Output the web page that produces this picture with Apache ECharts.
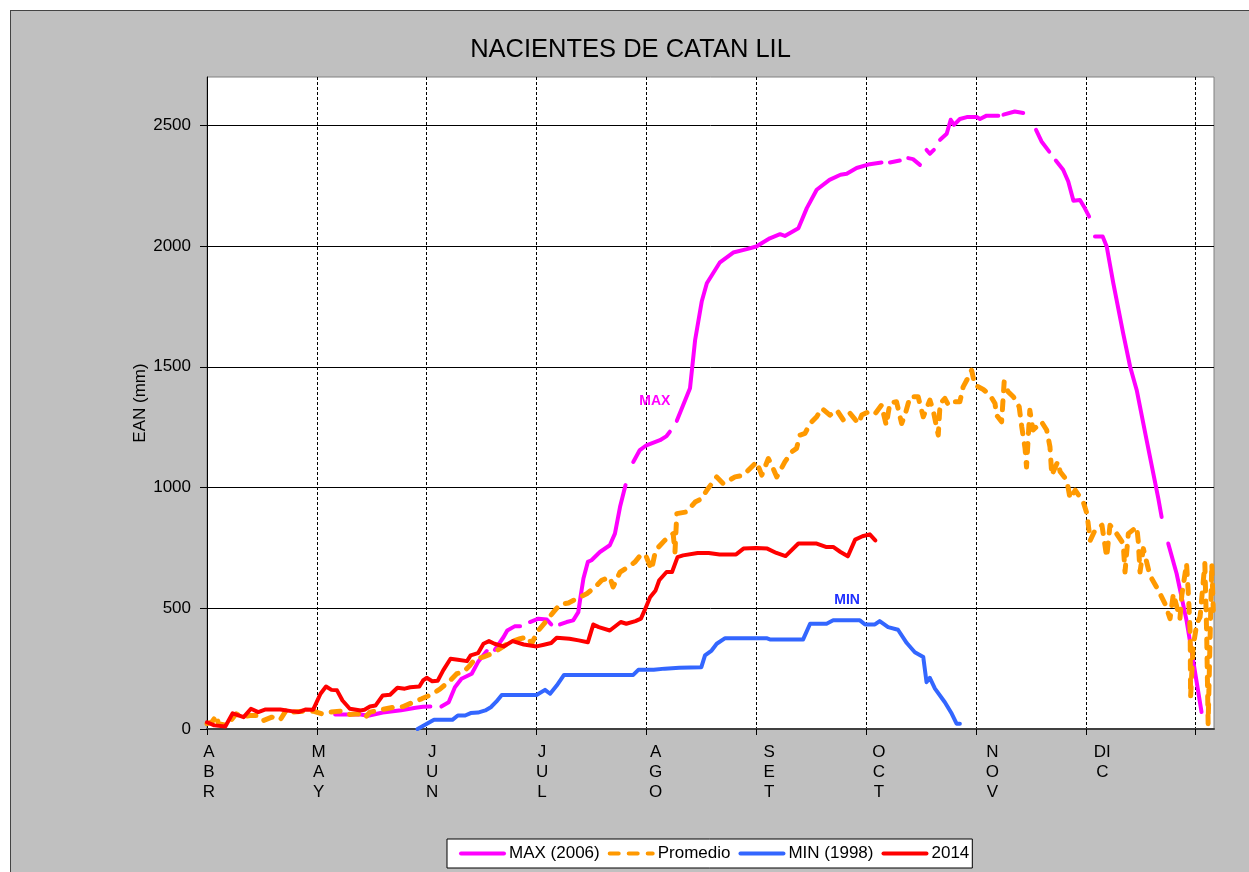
<!DOCTYPE html>
<html>
<head>
<meta charset="utf-8">
<title>NACIENTES DE CATAN LIL</title>
<script src="https://cdn.jsdelivr.net/npm/echarts@6/dist/echarts.min.js"></script>
<style>
html,body{margin:0;padding:0;background:#fff;overflow:hidden;}
#chart{position:absolute;left:10px;top:10px;width:1239px;height:862px;border-left:1px solid #444;border-top:1px solid #444;}
</style>
</head>
<body>
<div id="chart"></div>
<script>
// dias desde el 1 de abril (posicion en el eje), valores EAN en mm
var monthLabels = ['A\nB\nR','M\nA\nY','J\nU\nN','J\nU\nL','A\nG\nO','S\nE\nT','O\nC\nT','N\nO\nV','DI\nC'];
var monthStart = [0,30,61,91,122,153,183,214,244];
var yTicks = [0,500,1000,1500,2000,2500];
var xTicks = [0,30,60,90,120,150,180,210,240,270];

// MAX (2006) - tramos separados por datos faltantes
var max2006 = [
  [[35,60],[42,60],[44,55],[48,68],[53,78],[57,88],[59,92],[61,93]],
  [[64,93],[66,111],[67.7,173],[69.5,208],[72.3,229],[74,277],[76.4,323]],
  [[78.6,328],[81,381],[82,408],[84,425],[85.5,425]],
  [[88.2,443],[90.5,457],[92.8,453],[94,433]],
  [[96.4,433],[98.2,443],[100,450],[101.4,484],[102,546],[102.8,623],[104,692],[105,699],[107.3,733],[110,761],[111.4,809],[112.8,920],[114.3,1010]],
  [[116.4,1106],[118.2,1155],[120,1175],[123.7,1196],[125.5,1213],[126.4,1231]],
  [[128.3,1276],[131.9,1411],[133.3,1611],[135.1,1770],[136.5,1846],[140,1931],[143.7,1973],[147.4,1987],[150,1998],[153.7,2032],[156.5,2049],[157.8,2042],[161.5,2074],[163.8,2157],[166.5,2233],[170,2274],[173,2295],[174.7,2299],[177.4,2323],[181,2339],[184.2,2346]],
  [[186.5,2346],[189.2,2354]],
  [[191.5,2364],[192.8,2360],[194.7,2336]],
  [[196.5,2398],[197.4,2382],[198.5,2398]],
  [[200.2,2440],[202,2465],[203.1,2523],[204,2502],[205.6,2526],[207.5,2534],[210.2,2534],[211.1,2526],[212.9,2540],[216.1,2540]],
  [[217.5,2544],[220.6,2557],[222.9,2551]],
  [[226.4,2481],[227.9,2433],[230,2391]],
  [[231.8,2354],[233.8,2316],[235.2,2267],[236.6,2188],[238.4,2191],[239.5,2163],[240.9,2122]],
  [[242.5,2039],[244.6,2039],[245.7,1998],[247.5,1846],[250.2,1638],[252.1,1500],[253.9,1403],[256.6,1196],[259.8,954],[260.7,878]],
  [[262.5,768],[264.8,643],[267.5,450],[269.3,284],[271.6,70]]
];

var promedio = [
  [0,22],[1.3,28],[2.6,56],[3.1,22],[5.4,15],[8,63],[9.5,49],[11.7,56],[14,56],[15.4,35],[17.7,49],[20,38],
  [21.9,84],[23.6,70],[26.3,74],[29,74],[31.3,63],[33.6,70],[36.3,74],[39,60],[41.3,63],[43.1,46],[44.5,70],
  [47.7,80],[50.9,90],[53.6,93],[56.3,111],[58.6,125],[60.9,140],[63.6,165],[66.4,201],[68.2,229],[70,236],
  [71.8,263],[73.2,291],[75.5,298],[77.7,312],[80,333],[82.7,360],[85.5,374],[87.7,381],[88.6,353],[90.5,408],
  [92.8,450],[94.6,484],[96.4,516],[98.7,522],[101,540],[103.7,560],[106,588],[107.8,616],[110,629],[110.9,588],
  [112.8,650],[115,671],[116.9,692],[118.7,726],[120,712],[121.4,660],[122.5,740],[125,781],[127.3,809],[127.8,733],
  [128.3,892],[131,899],[133.3,940],[135.1,954],[136.5,989],[139.2,1044],[141,1016],[144.2,1044],[146.5,1051],
  [148.3,1079],[150.1,1106],[151.5,1051],[153.3,1120],[154.6,1079],[155.6,1044],[157.8,1106],[159.7,1148],[161,1162],
  [161.9,1217],[163.3,1224],[164.7,1265],[166.5,1293],[167.9,1328],[170.1,1300],[172,1320],[173.8,1279],[175.6,1307],
  [177.9,1265],[178.8,1300],[180.6,1313],[182.4,1304],[184.2,1341],[185.5,1258],[186.5,1351],[188.3,1355],[189.7,1265],
  [190.6,1300],[192,1376],[194.2,1376],[195.6,1293],[197.4,1362],[198.3,1320],[199.7,1217],[200.2,1348],[201.5,1369],
  [202.5,1341],[203.8,1355],[205.6,1355],[206.5,1417],[207.5,1445],[208.8,1486],[209.7,1424],[212,1406],[213.8,1383],
  [215.2,1348],[215.6,1300],[217,1272],[217.7,1438],[218.8,1396],[220.2,1376],[221.8,1334],[222.5,1251],[223.4,1162],
  [223.8,1085],[224.7,1320],[225.6,1238],[227.9,1272],[229.3,1238],[230.2,1169],[230.7,1051],[232.3,1106],[233,1065],
  [234.8,1030],[235.7,954],[237.1,989],[239.3,940],[240.3,892],[241.2,781],[242.5,823],[244.4,844],[245.7,712],
  [246.6,844],[248.4,809],[250.2,768],[250.7,650],[251.6,809],[253.9,837],[254.3,781],[254.8,650],[255.7,747],
  [257.5,636],[259.8,574],[261.6,519],[263,457],[263.9,560],[265.7,457],[266.2,553],[267.5,685],[268,560],[268.5,395],
  [268.6,132],[269.3,339],[270.3,436],[271.2,464],[272.5,685],[273,395],[273.4,22],[274.4,685],[274.8,491]
];

var min1998 = [
  [57.5,0],[62,38],[67,38],[68.5,56],[70.5,56],[72,66],[74,68],[76,77],[77.5,90],[79,113],[80.5,141],[90,141],
  [92.3,162],[93.7,146],[95.5,180],[97.5,224],[116.4,224],[117.8,245],[122,245],[125,250],[129,254],[135,256],
  [136,305],[137.8,325],[139.2,353],[141.5,376],[152.8,376],[153.7,371],[162.8,371],[164.7,436],[169.2,436],
  [171,450],[178.3,450],[179.7,433],[182.4,433],[183.7,447],[186,422],[188.7,411],[191.1,356],[193.3,318],
  [195.6,298],[196.5,194],[197.4,212],[198.8,167],[201.5,111],[203.4,63],[204.7,22],[205.6,22]
];

var y2014 = [
  [0,28],[2,15],[5,10],[7,65],[10,49],[12,84],[14,70],[16,81],[20,81],[23,74],[25,70],[27,81],[29,80],[31,146],
  [32.5,176],[34,162],[35.5,160],[37,118],[39,84],[42,77],[43,80],[44.5,93],[46,97],[48,139],[50,142],[52,171],
  [54,167],[55.5,173],[58,176],[59,201],[60,212],[61.5,198],[63,200],[64.5,243],[66.5,291],[68.5,287],[71,281],
  [72,305],[74,314],[75.5,353],[77,364],[78.5,353],[81,342],[83.5,364],[86.5,350],[90,342],[92,349],[94,356],
  [95.5,378],[99,374],[101.5,367],[104,359],[105.5,433],[107,422],[110,408],[113,443],[114.5,436],[117,447],
  [118.5,457],[119.5,491],[121,546],[122.5,574],[123.5,616],[125.5,650],[127,650],[128.5,712],[130,719],[134,729],
  [137,729],[140,723],[144.5,723],[146.5,747],[150,750],[153,747],[155.5,729],[158,716],[161.5,768],[166.5,768],
  [169,754],[171,754],[173,733],[175,715],[177,784],[179,798],[181,806],[182.5,781]
];

//une los tramos con un hueco entre ellos
function joinSegments(segs){
  var out = [];
  for(var i=0;i<segs.length;i++){
    if(i > 0){ out.push([segs[i][0][0], '-']); }
    out = out.concat(segs[i]);
  }
  return out;
}

var labelPos = monthStart.map(function(d){ return d + 0.5; });

var myChart = echarts.init(document.getElementById('chart'));
var option = {
  animation: false,
  backgroundColor: '#c0c0c0',
  textStyle: { fontFamily: '"Liberation Sans", Arial, sans-serif', color: '#000' },
  title: {
    text: 'NACIENTES DE CATAN LIL',
    left: 'center',
    top: 21,
    textStyle: { fontSize: 25.5, fontWeight: 'normal', color: '#000', fontFamily: '"Liberation Sans", Arial, sans-serif' }
  },
  legend: {
    left: 436,
    top: 828,
    orient: 'horizontal',
    itemWidth: 43,
    itemHeight: 14,
    itemGap: 8,
    padding: [6, 3, 6, 12],
    backgroundColor: '#fff',
    borderColor: '#000',
    borderWidth: 1,
    borderRadius: 0,
    itemStyle: { color: 'transparent', borderWidth: 0, opacity: 0 },
    lineStyle: { width: 4, cap: 'round' },
    textStyle: { fontSize: 17, color: '#000', fontFamily: '"Liberation Sans", Arial, sans-serif' },
    data: ['MAX (2006)', 'Promedio', 'MIN (1998)', '2014']
  },
  grid: {
    left: 196, top: 66, right: 36, bottom: 144,
    show: true, backgroundColor: '#fff', borderColor: '#808080', borderWidth: 1
  },
  xAxis: {
    type: 'value', min: 0, max: 275, interval: 30,
    axisLine: { show: true, onZero: false, lineStyle: { color: '#404040', width: 2 } },
    axisTick: { show: true, length: 6, customValues: xTicks, lineStyle: { color: '#000' } },
    axisLabel: {
      customValues: labelPos,
      fontSize: 17, lineHeight: 20, margin: 13, color: '#000', align: 'center',
      formatter: function(v){
        var i = labelPos.indexOf(v);
        return i >= 0 ? monthLabels[i] : '';
      }
    },
    splitLine: { show: true, lineStyle: { color: '#000', width: 1, type: [3, 2] } }
  },
  yAxis: {
    type: 'value', min: 0, max: 2700, interval: 500,
    name: 'EAN (mm)', nameLocation: 'middle', nameGap: 58, nameMoveOverlap: false,
    nameTextStyle: { fontSize: 17, color: '#000' },
    axisLine: { show: true, lineStyle: { color: '#000', width: 1 } },
    axisTick: { show: true, length: 7, customValues: yTicks, lineStyle: { color: '#000' } },
    axisLabel: {
      customValues: yTicks, fontSize: 17, margin: 16, color: '#000',
      formatter: function(v){ return String(v); }
    },
    splitLine: { show: true, lineStyle: { color: '#000', width: 1 } }
  },
  series: [
    {
      name: 'MAX (2006)', type: 'line', data: joinSegments(max2006),
      symbol: 'none', connectNulls: false,
      lineStyle: { color: '#ff00ff', width: 4, cap: 'round', join: 'round' },
      itemStyle: { color: '#ff00ff' },
      markPoint: {
        symbol: 'circle', symbolSize: 0,
        label: { show: true, position: 'inside', formatter: 'MAX', color: '#ff00ff', fontWeight: 'bold', fontSize: 14 },
        data: [{ coord: [122.3, 1358] }]
      }
    },
    {
      name: 'Promedio', type: 'line', data: promedio,
      symbol: 'none',
      lineStyle: { color: '#ff9900', width: 5, type: [9, 10], cap: 'round', join: 'round' },
      itemStyle: { color: '#ff9900' }
    },
    {
      name: 'MIN (1998)', type: 'line', data: min1998,
      symbol: 'none',
      lineStyle: { color: '#3366ff', width: 4, cap: 'round', join: 'round' },
      itemStyle: { color: '#3366ff' },
      markPoint: {
        symbol: 'circle', symbolSize: 0,
        label: { show: true, position: 'inside', formatter: 'MIN', color: '#1f2fff', fontWeight: 'bold', fontSize: 14 },
        data: [{ coord: [174.8, 533] }]
      }
    },
    {
      name: '2014', type: 'line', data: y2014,
      symbol: 'none',
      lineStyle: { color: '#ff0000', width: 4, cap: 'round', join: 'round' },
      itemStyle: { color: '#ff0000' }
    }
  ]
};
myChart.setOption(option);
</script>
</body>
</html>
